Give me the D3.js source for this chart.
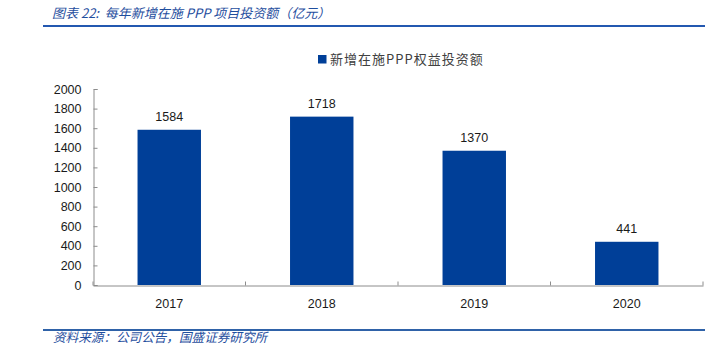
<!DOCTYPE html>
<html>
<head>
<meta charset="utf-8">
<script src="https://cdn.jsdelivr.net/npm/d3@7"></script>
<style>
  html, body { margin: 0; padding: 0; background: #fff; }
  svg { display: block; }
</style>
</head>
<body>
<svg id="chart" width="722" height="356"></svg>
<script>
const categories = ["2017", "2018", "2019", "2020"];
const values = [1584, 1718, 1370, 441];
const yTicks = [0, 200, 400, 600, 800, 1000, 1200, 1400, 1600, 1800, 2000];
const seriesName = "新增在施PPP权益投资额";
const titleText = "图表 22:  每年新增在施 PPP 项目投资额（亿元）";
const sourceText = "资料来源：公司公告，国盛证券研究所";

const svg = d3.select("#chart");
const numFont = "'Liberation Sans', Arial, sans-serif";
const cjkFont = "'Noto Sans CJK SC', sans-serif";
const barColor = "#003f98";
const axisColor = "#8c8c8c";

// Title
svg.append("text")
  .attr("x", 52).attr("y", 18)
  .attr("font-family", cjkFont).attr("font-size", 13)
  .attr("font-style", "italic")
  .style("white-space", "pre")
  .attr("fill", "#1f4e9e")
  .text(titleText);
svg.append("line")
  .attr("x1", 43).attr("x2", 705).attr("y1", 26).attr("y2", 26)
  .attr("stroke", "#2358b0").attr("stroke-width", 2);

// Footer
svg.append("line")
  .attr("x1", 43).attr("x2", 705).attr("y1", 330).attr("y2", 330)
  .attr("stroke", "#2f62a8").attr("stroke-width", 2);
svg.append("text")
  .attr("x", 53).attr("y", 342)
  .attr("font-family", cjkFont).attr("font-size", 12.6)
  .attr("font-style", "italic")
  .attr("fill", "#1f4e9e")
  .text(sourceText);

// Scales
const x = d3.scaleBand().domain(categories).range([93, 703])
  .paddingInner(0.584).paddingOuter(0.292);
const y = d3.scaleLinear().domain([0, 2000]).range([285, 89]);

// Bars
svg.append("g").selectAll("rect").data(values).join("rect")
  .attr("x", (d, i) => x(categories[i]))
  .attr("y", d => y(d))
  .attr("width", x.bandwidth())
  .attr("height", d => y(0) - y(d))
  .attr("fill", barColor);

// Value labels
svg.append("g").selectAll("text").data(values).join("text")
  .attr("x", (d, i) => x(categories[i]) + x.bandwidth() / 2)
  .attr("y", d => y(d) - 9)
  .attr("text-anchor", "middle")
  .attr("font-family", numFont).attr("font-size", 12.5)
  .attr("fill", "#1a1a1a")
  .text(d => d);

// Y axis
const yAxis = d3.axisLeft(y).tickValues(yTicks).tickSize(-4).tickPadding(12)
  .tickFormat(d3.format("d"));
const gy = svg.append("g").attr("transform", "translate(93.5,0)").call(yAxis);
gy.select(".domain").attr("stroke", axisColor);
gy.selectAll(".tick line").attr("stroke", axisColor);
gy.selectAll(".tick text").attr("font-family", numFont).attr("font-size", 12.5)
  .attr("fill", "#1a1a1a");

// X axis
const xAxis = d3.axisBottom(x).tickSize(0).tickPadding(14);
const gx = svg.append("g").attr("transform", "translate(0,285.5)").call(xAxis);
gx.select(".domain").attr("stroke", axisColor);
gx.selectAll(".tick text").attr("font-family", numFont).attr("font-size", 12.5)
  .attr("fill", "#1a1a1a");
// boundary tick marks
const step = x.step();
const bounds = d3.range(categories.length + 1).map(i => x.range()[0] + i * step);
gx.selectAll(".bound").data(bounds).join("line")
  .attr("class", "bound")
  .attr("x1", d => d).attr("x2", d => d)
  .attr("y1", 0).attr("y2", -4)
  .attr("stroke", axisColor);

// Legend
const lg = svg.append("g");
lg.append("rect").attr("x", 318).attr("y", 55).attr("width", 8.5).attr("height", 8.5)
  .attr("fill", barColor);
lg.append("text").attr("x", 330).attr("y", 64)
  .attr("font-family", cjkFont).attr("font-size", 13)
  .attr("letter-spacing", 1)
  .attr("fill", "#404040")
  .text(seriesName);
</script>
</body>
</html>
